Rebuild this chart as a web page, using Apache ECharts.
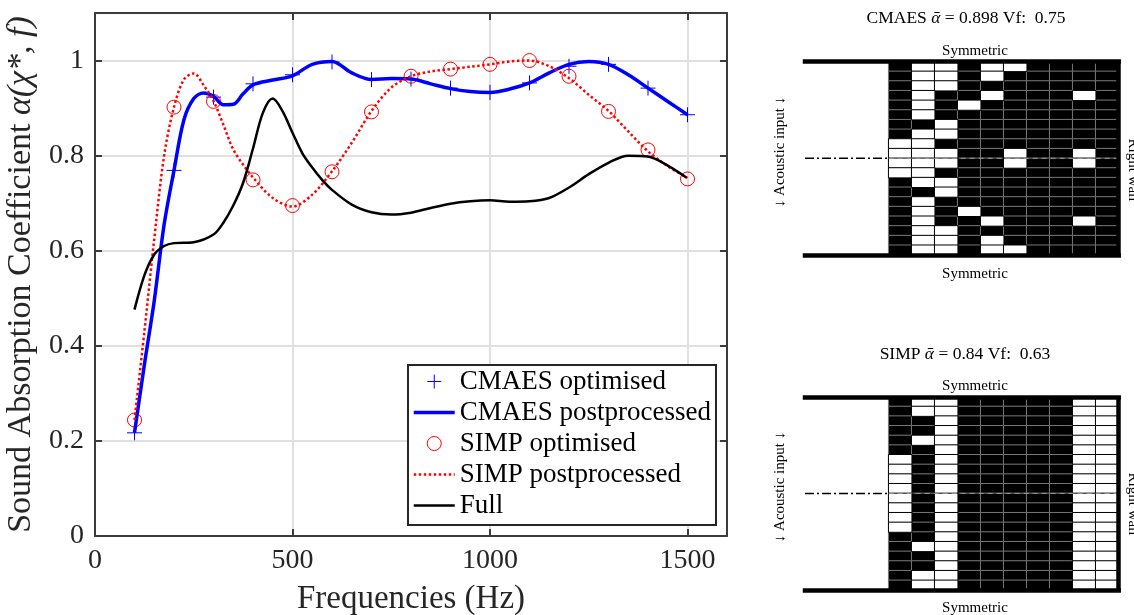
<!DOCTYPE html>
<html>
<head>
<meta charset="utf-8">
<title>Sound absorption</title>
<style>
html, body { margin: 0; padding: 0; background: #fff; overflow: hidden; }
#main { width: 1134px; height: 615px; }
</style>
<script src="https://cdn.jsdelivr.net/npm/echarts@6/dist/echarts.min.js"></script>
</head>
<body>
<div id="main"></div>
<script>
// values
var freqs = [100, 200, 300, 400, 500, 600, 700, 800, 900, 1000, 1100, 1200, 1300, 1400, 1500];
var cmaesOpt = [0.217, 0.769, 0.923, 0.951, 0.970, 0.997, 0.960, 0.961, 0.942, 0.933, 0.953, 0.988, 0.992, 0.942, 0.886];
var simpOpt = [0.244, 0.902, 0.914, 0.749, 0.695, 0.766, 0.892, 0.967, 0.982, 0.992, 1.000, 0.967, 0.893, 0.812, 0.751];

var cmaesPost = [[100, 0.217], [125, 0.36], [150, 0.495], [175, 0.655], [200, 0.769], [225, 0.875], [250, 0.92], [275, 0.932], [300, 0.925], [325, 0.907], [350, 0.908], [375, 0.93], [400, 0.949], [450, 0.959], [500, 0.968], [550, 0.992], [600, 0.998], [650, 0.974], [700, 0.960], [750, 0.962], [800, 0.961], [850, 0.951], [900, 0.941], [950, 0.935], [1000, 0.933], [1050, 0.94], [1100, 0.953], [1150, 0.974], [1200, 0.992], [1250, 0.998], [1300, 0.992], [1350, 0.97], [1400, 0.942], [1450, 0.914], [1500, 0.886]];
var simpPost = [[100, 0.244], [125, 0.43], [150, 0.625], [175, 0.80], [200, 0.902], [225, 0.96], [250, 0.973], [275, 0.948], [300, 0.915], [325, 0.865], [350, 0.813], [375, 0.781], [400, 0.754], [450, 0.711], [500, 0.693], [550, 0.718], [600, 0.767], [650, 0.827], [700, 0.894], [750, 0.943], [800, 0.967], [850, 0.977], [900, 0.982], [950, 0.987], [1000, 0.992], [1050, 0.998], [1100, 1.0], [1150, 0.988], [1200, 0.963], [1250, 0.928], [1300, 0.894], [1350, 0.851], [1400, 0.809], [1450, 0.778], [1500, 0.753]];
var fullCurve = [[100, 0.476], [125, 0.548], [150, 0.592], [175, 0.61], [200, 0.616], [250, 0.618], [300, 0.634], [325, 0.659], [350, 0.695], [375, 0.743], [400, 0.815], [425, 0.89], [450, 0.92], [475, 0.893], [500, 0.848], [525, 0.805], [550, 0.775], [575, 0.749], [600, 0.728], [650, 0.697], [700, 0.681], [750, 0.676], [800, 0.68], [850, 0.69], [900, 0.699], [950, 0.704], [1000, 0.706], [1050, 0.703], [1100, 0.704], [1150, 0.711], [1200, 0.733], [1250, 0.761], [1300, 0.785], [1350, 0.80], [1400, 0.798], [1450, 0.779], [1497, 0.754]];

var xTicks = [0, 500, 1000, 1500];
var yTicks = [0, 0.2, 0.4, 0.6, 0.8, 1];

// white cells per row of each design, top row first, the rest of the 10 columns is black
var cmaesVoids = [[1, 2, 4, 5], [1, 2, 4], [1, 2], [1, 4, 8], [1, 3], [1], [2], [1, 2], [0, 1], [0, 1, 2, 5, 8],
    [0, 1, 2, 5, 8], [0, 1], [1, 2], [2], [1], [1, 3], [1, 4, 8], [1, 2], [1, 2, 4], [1, 2, 4, 5]];
var simpVoids = [[1, 2, 8, 9], [1, 2, 8, 9], [2, 8, 9], [2, 8, 9], [1, 2, 8, 9], [2, 8, 9], [0, 2, 8, 9], [0, 2, 8, 9], [0, 2, 8, 9], [0, 2, 8, 9],
    [0, 2, 8, 9], [0, 2, 8, 9], [0, 2, 8, 9], [0, 2, 8, 9], [2, 8, 9], [1, 2, 8, 9], [2, 8, 9], [2, 8, 9], [1, 2, 8, 9], [1, 2, 8, 9]];
var colNames = ['0', '1', '2', '3', '4', '5', '6', '7', '8', '9'];
var rowNames = ['0', '1', '2', '3', '4', '5', '6', '7', '8', '9', '10', '11', '12', '13', '14', '15', '16', '17', '18', '19'];

var serif = '"Liberation Serif", "DejaVu Serif", serif';
var ink = '#262626';
var boxColor = '#3c3c3c';
var gridColor = '#e0e0e0';

function zip(xs, ys) {
    return xs.map(function (x, i) { return [x, ys[i]]; });
}

function plain(v) {
    return String(v);
}

// split one design in black and white cells for the heatmap
function cells(voids, wanted) {
    var out = [];
    voids.forEach(function (row, r) {
        colNames.forEach(function (name, c) {
            var isVoid = row.indexOf(c) >= 0;
            if (isVoid === wanted) {
                out.push([c, r, 1]);
            }
        });
    });
    return out;
}

var grids = [{ left: 95, top: 13, width: 632, height: 523, outerBoundsMode: 'none' }];
var xAxes = [
    {
        type: 'value', gridIndex: 0, min: 0, max: 1600, position: 'bottom',
        name: 'Frequencies (Hz)', nameLocation: 'middle', nameGap: 47,
        nameTextStyle: { fontFamily: serif, fontSize: 33, color: ink },
        axisLine: { onZero: false, lineStyle: { color: boxColor, width: 2 } },
        axisTick: { inside: true, length: 7, customValues: xTicks, lineStyle: { color: boxColor, width: 2 } },
        axisLabel: { customValues: xTicks, formatter: plain, margin: 11, fontFamily: serif, fontSize: 28, color: ink },
        splitLine: { show: true, lineStyle: { color: gridColor, width: 2 } }
    },
    {
        type: 'value', gridIndex: 0, min: 0, max: 1600, position: 'top',
        axisLine: { onZero: false, lineStyle: { color: boxColor, width: 2 } },
        axisTick: { inside: true, length: 7, customValues: xTicks, lineStyle: { color: boxColor, width: 2 } },
        axisLabel: { show: false },
        splitLine: { show: false }
    }
];
var yAxes = [
    {
        type: 'value', gridIndex: 0, min: 0, max: 1.1, position: 'left',
        name: 'Sound Absorption Coefficient {m|α(χ*, f)}', nameLocation: 'middle', nameGap: 51,
        nameTextStyle: {
            fontFamily: serif, fontSize: 34, color: ink,
            rich: { m: { fontFamily: serif, fontSize: 34, fontStyle: 'italic', color: ink } }
        },
        axisLine: { onZero: false, lineStyle: { color: boxColor, width: 2 } },
        axisTick: { inside: true, length: 7, customValues: yTicks, lineStyle: { color: boxColor, width: 2 } },
        axisLabel: { customValues: yTicks, margin: 11, fontFamily: serif, fontSize: 28, color: ink },
        splitLine: { show: true, lineStyle: { color: gridColor, width: 2 } }
    },
    {
        type: 'value', gridIndex: 0, min: 0, max: 1.1, position: 'right',
        axisLine: { onZero: false, lineStyle: { color: boxColor, width: 2 } },
        axisTick: { inside: true, length: 7, customValues: yTicks, lineStyle: { color: boxColor, width: 2 } },
        axisLabel: { show: false },
        splitLine: { show: false }
    }
];

var series = [
    {
        name: 'CMAES optimised', type: 'scatter', xAxisIndex: 0, yAxisIndex: 0,
        symbol: 'path://M5 0V10M0 5H10', symbolSize: 15,
        itemStyle: { color: 'rgba(0,0,0,0)', borderColor: '#0000ff', borderWidth: 1, opacity: 1 },
        data: zip(freqs, cmaesOpt)
    },
    {
        name: 'CMAES postprocessed', type: 'line', xAxisIndex: 0, yAxisIndex: 0,
        symbol: 'none', smooth: 0.33,
        lineStyle: { color: '#0000ff', width: 3.5 }, itemStyle: { color: '#0000ff' },
        data: cmaesPost
    },
    {
        name: 'SIMP optimised', type: 'scatter', xAxisIndex: 0, yAxisIndex: 0,
        symbol: 'circle', symbolSize: 14,
        itemStyle: { color: 'rgba(0,0,0,0)', borderColor: '#ff0000', borderWidth: 1, opacity: 1 },
        data: zip(freqs, simpOpt)
    },
    {
        name: 'SIMP postprocessed', type: 'line', xAxisIndex: 0, yAxisIndex: 0,
        symbol: 'none', smooth: 0.33,
        lineStyle: { color: '#ff0000', width: 2.5, type: [2.5, 2.5] }, itemStyle: { color: '#ff0000' },
        data: simpPost
    },
    {
        name: 'Full', type: 'line', xAxisIndex: 0, yAxisIndex: 0,
        symbol: 'none', smooth: 0.33,
        lineStyle: { color: '#000', width: 2.5 }, itemStyle: { color: '#000' },
        data: fullCurve
    }
];

// one wall drawing: cells grid, and a frame grid on top of it for walls and centre line
function addDesign(voids, top) {
    var cellLeft = 888.7, colW = 23, rowH = 9.66;
    var frameLeft = 805;
    var gi = grids.length;
    grids.push({ left: cellLeft, top: top, width: colW * 10, height: rowH * 20, outerBoundsMode: 'none' });
    grids.push({ left: frameLeft, top: top, width: cellLeft + colW * 10 - frameLeft, height: rowH * 20, outerBoundsMode: 'none' });

    var ax = xAxes.length, ay = yAxes.length;
    xAxes.push({ type: 'category', gridIndex: gi, data: colNames, show: false });
    yAxes.push({ type: 'category', gridIndex: gi, data: rowNames, inverse: true, show: false });

    var wall = { onZero: false, lineStyle: { color: '#000', width: 4.5, cap: 'square' } };
    var sideWall = { onZero: false, lineStyle: { color: '#000', width: 4.5, cap: 'butt' } };
    var frameMin = -(cellLeft - frameLeft) / colW;
    var bare = { axisTick: { show: false }, axisLabel: { show: false }, splitLine: { show: false } };
    xAxes.push(Object.assign({ type: 'value', gridIndex: gi + 1, min: frameMin, max: 10, position: 'bottom', axisLine: wall, z: 6 }, bare));
    xAxes.push(Object.assign({ type: 'value', gridIndex: gi + 1, min: frameMin, max: 10, position: 'top', axisLine: wall, z: 6 }, bare));
    yAxes.push(Object.assign({ type: 'value', gridIndex: gi + 1, min: 0, max: 20, position: 'right', axisLine: sideWall, z: 6 }, bare));

    series.push({
        name: 'solid', type: 'heatmap', xAxisIndex: ax, yAxisIndex: ay, z: 3,
        itemStyle: { color: '#000', borderColor: '#767676', borderWidth: 1 },
        emphasis: { disabled: true },
        data: cells(voids, false)
    });
    series.push({
        name: 'void', type: 'heatmap', xAxisIndex: ax, yAxisIndex: ay, z: 4,
        itemStyle: { color: '#fff', borderColor: '#000', borderWidth: 1 },
        emphasis: { disabled: true },
        data: cells(voids, true)
    });
    // symmetry line: black over the open part, grey dashes over the cells
    series.push({
        name: 'axis open', type: 'line', xAxisIndex: ax + 1, yAxisIndex: ay + 1, z: 5,
        symbol: 'none', silent: true,
        lineStyle: { color: '#000', width: 1.5, type: [9, 3, 2, 3] },
        data: [[frameMin, 10], [0, 10]]
    });
    series.push({
        name: 'axis cells', type: 'line', xAxisIndex: ax + 1, yAxisIndex: ay + 1, z: 5,
        symbol: 'none', silent: true,
        lineStyle: { color: '#9a9a9a', width: 1, type: [5, 4] },
        data: [[0, 10], [9.95, 10]]
    });
}
addDesign(cmaesVoids, 61.7);
addDesign(simpVoids, 396.8);

function label(text, x, y, size, rotation) {
    return {
        type: 'text', x: x, y: y, rotation: rotation || 0, z: 20,
        style: {
            text: text, fontFamily: serif, fontSize: size, fill: '#000', align: 'center', verticalAlign: 'middle',
            rich: { a: { fontFamily: serif, fontSize: size, fontStyle: 'italic', fill: '#000' } }
        }
    };
}

var option = {
    animation: false,
    backgroundColor: '#fff',
    tooltip: { show: false },
    grid: grids,
    xAxis: xAxes,
    yAxis: yAxes,
    legend: {
        orient: 'vertical',
        left: 408,
        top: 365,
        padding: [3, 5, 6, 4],
        itemWidth: 41,
        itemHeight: 14,
        itemGap: 4,
        selectedMode: false,
        backgroundColor: '#fff',
        borderColor: ink,
        borderWidth: 2,
        borderRadius: 0,
        textStyle: { fontFamily: serif, fontSize: 27, color: '#000', padding: [0, 0, 0, 0] },
        data: [
            { name: 'CMAES optimised', itemStyle: { color: 'rgba(0,0,0,0)', borderColor: '#0000ff', borderWidth: 1 } },
            { name: 'CMAES postprocessed', itemStyle: { opacity: 0 }, lineStyle: { color: '#0000ff', width: 3.5 } },
            { name: 'SIMP optimised', itemStyle: { color: 'rgba(0,0,0,0)', borderColor: '#ff0000', borderWidth: 1 } },
            { name: 'SIMP postprocessed', itemStyle: { opacity: 0 }, lineStyle: { color: '#ff0000', width: 2.5, type: [2.5, 2.5] } },
            { name: 'Full', itemStyle: { opacity: 0 }, lineStyle: { color: '#000', width: 2.5 } }
        ]
    },
    graphic: [
        label('CMAES {a|ᾱ} = 0.898 Vf:  0.75', 966, 18, 17.5),
        label('Symmetric', 975, 51, 15),
        label('Symmetric', 975, 274, 15),
        label('↓ Acoustic input ↓', 780, 152, 15, Math.PI / 2),
        label('Right wall', 1133, 170, 15, -Math.PI / 2),
        label('SIMP {a|ᾱ} = 0.84 Vf:  0.63', 965, 354, 17.5),
        label('Symmetric', 975, 386, 15),
        label('Symmetric', 975, 608, 15),
        label('↓ Acoustic input ↓', 780, 487, 15, Math.PI / 2),
        label('Right wall', 1133, 504, 15, -Math.PI / 2)
    ],
    series: series
};

var myChart = echarts.init(document.getElementById('main'), null, { renderer: 'canvas' });
myChart.setOption(option);
window.onresize = myChart.resize;
</script>
</body>
</html>
